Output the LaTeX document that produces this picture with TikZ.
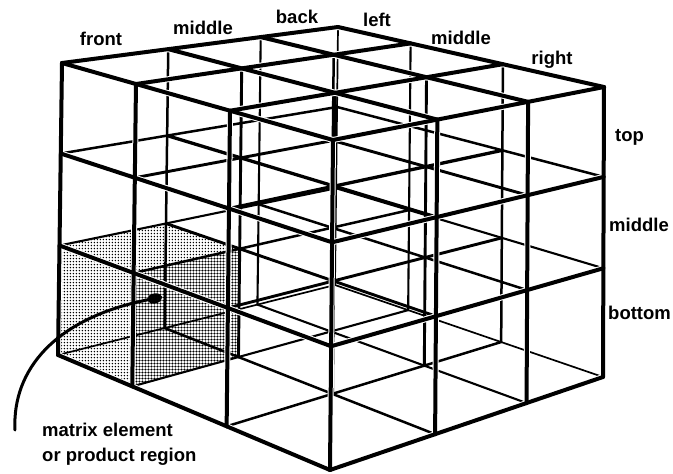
\documentclass[tikz,border=0pt]{standalone}
\usepackage{fontspec}
\setmainfont{Liberation Sans}
\usetikzlibrary{calc,arrows.meta,patterns.meta}
\tikzdeclarepattern{
  name=tonelight, type=uncolored,
  bounding box={(0pt,0pt) and (3.4pt,3.4pt)},
  tile size={(3.4pt,3.4pt)},
  code={\fill (1.7pt,1.7pt) circle (0.9pt);}
}
\tikzdeclarepattern{
  name=tonedark, type=uncolored,
  bounding box={(0pt,0pt) and (3.4pt,3.4pt)},
  tile size={(3.4pt,3.4pt)},
  code={\fill (1.7pt,1.7pt) circle (1.35pt);}
}
\tikzset{
  outerwire/.style={line width=4pt,line cap=round,line join=round},
  wirecasing/.style={draw=white,line width=6pt},
  innerwire/.style={line width=#1,line cap=round},
  lbl/.style={font=\fontsize{18.5}{25}\selectfont\bfseries,inner sep=0pt},
  lightface/.style={pattern=tonelight,pattern color=black},
  darkface/.style={pattern=tonedark,pattern color=black},
  pointer/.style={line width=3pt,line cap=round,-{Ellipse[length=15pt,width=10pt]}},
}

\begin{document}
\begin{tikzpicture}[x=1pt,y=-1pt]
  \useasboundingbox[fill=white] (0,0) rectangle (673,474);

  % corners of the block: bottom (b) and top (t)
  \coordinate (b00) at (58,355);
  \coordinate (b30) at (330,470);
  \coordinate (b03) at (335,285);
  \coordinate (b33) at (603,377);
  \coordinate (t00) at (62,63);
  \coordinate (t30) at (333,140);
  \coordinate (t03) at (338,27);
  \coordinate (t33) at (604,87);

  % lattice points p<i><j><k>, i left-right, j front-back, k bottom-top
  \foreach \i/\u in {0/0,1/0.273,2/0.62,3/1} {
    \coordinate (bf\i) at ($(b00)!\u!(b30)$);
    \coordinate (bk\i) at ($(b03)!\u!(b33)$);
    \coordinate (tf\i) at ($(t00)!\u!(t30)$);
    \coordinate (tk\i) at ($(t03)!\u!(t33)$);
  }
  \foreach \i in {0,...,3} \foreach \j/\v in {0/0,1/0.385,2/0.72,3/1} {
    \coordinate (bot\i\j) at ($(bf\i)!\v!(bk\i)$);
    \coordinate (top\i\j) at ($(tf\i)!\v!(tk\i)$);
  }
  \foreach \i in {0,...,3} \foreach \j in {0,...,3} \foreach \k/\w in {0/0,1/0.375,2/0.69,3/1}
    \coordinate (p\i\j\k) at ($(bot\i\j)!\w!(top\i\j)$);

  % the shaded cell
  \fill[lightface] (p000) -- (p100) -- (p101) -- (p001) -- cycle;
  \fill[lightface] (p001) -- (p101) -- (p111) -- (p011) -- cycle;
  \fill[darkface] (p100) -- (p110) -- (p111) -- (p101) -- cycle;

  % hidden wires, thinner further back
  \foreach \a in {0,...,3} \foreach \b in {0,...,3} {
    \pgfmathsetmacro\wx{4.1-0.4*(\a+3-\b)}
    \pgfmathsetmacro\wy{4.1-0.4*(6-\a-\b)}
    \pgfmathsetmacro\wz{4.1-0.4*(3-\a+\b)}
    \ifnum\a>0 \ifnum\b<3 \draw[innerwire=\wx pt] (p0\a\b) -- (p3\a\b); \fi\fi
    \ifnum\a<3 \ifnum\b<3 \draw[innerwire=\wy pt] (p\a0\b) -- (p\a3\b); \fi\fi
    \ifnum\a<3 \ifnum\b>0 \draw[innerwire=\wz pt] (p\a\b0) -- (p\a\b3); \fi\fi
  }

  % wires on the three faces in view
  \foreach \pass in {wirecasing,outerwire}
    \foreach \a in {0,...,3} \foreach \b in {0,...,3} {
      \pgfmathtruncatemacro\vx{(\a==0)||(\b==3)}
      \pgfmathtruncatemacro\vy{(\a==3)||(\b==3)}
      \pgfmathtruncatemacro\vz{(\a==3)||(\b==0)}
      \ifnum\vx=1 \draw[\pass] (p0\a\b) -- (p3\a\b); \fi
      \ifnum\vy=1 \draw[\pass] (p\a0\b) -- (p\a3\b); \fi
      \ifnum\vz=1 \draw[\pass] (p\a\b0) -- (p\a\b3); \fi
    }

  % labels
  \node[lbl] (lfront) at (101,39) {front};
  \node[lbl] (lmidA) at (203,28) {middle};
  \node[lbl] (lback) at (297,17) {back};
  \node[lbl] (lleft) at (377,20) {left};
  \node[lbl] (lmidB) at (461,38) {middle};
  \node[lbl] (lright) at (552,60) {right};
  \node[lbl,anchor=west] (ltop) at (615,137) {top};
  \node[lbl,anchor=west] (lmidC) at (609,225) {middle};
  \node[lbl,anchor=west] (lbottom) at (608,313) {bottom};
  \node[lbl,anchor=west,align=left] (lregion) at (42,444) {matrix element\\or product region};

  % pointer into the shaded cell
  \coordinate (tail) at (15,430);
  \coordinate (tip) at (162,297);
  \draw[pointer] (tail) .. controls (12,370) and (55,318) .. (tip);
\end{tikzpicture}
\end{document}
